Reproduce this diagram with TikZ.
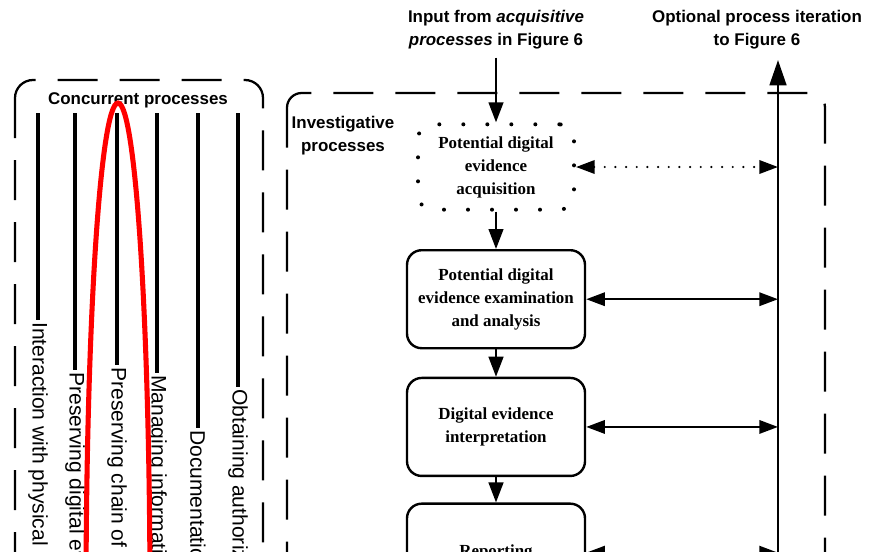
\documentclass[tikz,border=0pt]{standalone}
\usepackage{fontspec}
\setmainfont{Liberation Serif}
\setsansfont{Liberation Sans}
\usepackage{tikz}
\usetikzlibrary{positioning}
\usetikzlibrary{arrows.meta}

\tikzset{
  frame/.style={dash pattern=on 30pt off 16.5pt, line width=1.7pt},
  head/.style={font=\sffamily\bfseries\fontsize{12.7}{17.3}\selectfont, inner sep=2pt},
  procbox/.style={draw, line width=1.8pt, rounded corners=11pt, minimum width=133.5pt,
    minimum height=73.5pt, align=center, font=\bfseries\fontsize{12.7}{17.3}\selectfont},
  dotbox/.style={draw, line width=3pt, line cap=round, dash pattern=on 0pt off 18pt,
    rounded corners=11pt, minimum width=117pt, minimum height=64pt, align=center,
    font=\bfseries\fontsize{12.7}{17.3}\selectfont},
  vtext/.style={rotate=-90, anchor=west, inner sep=1.5pt,
    font=\sffamily\fontsize{15.8}{19}\selectfont},
  cline/.style={line width=3.3pt},
  arr/.style={-{Triangle[length=15pt,width=11pt]}, line width=1.7pt},
  link/.style={{Triangle[length=14pt,width=10pt]}-{Triangle[length=14pt,width=10pt]}, line width=1.7pt},
  dotlink/.style={link, dash pattern=on 0pt off 8pt, line cap=round, line width=1.8pt},
  iter/.style={-{Triangle[length=19pt,width=12.5pt]}, line width=2pt},
  redmark/.style={draw=red, line width=3.8pt}
}

\begin{document}
\begin{tikzpicture}[x=0.75pt, y=-0.75pt]

    \useasboundingbox (0,0) rectangle (873,551);
    \clip (0,0) rectangle (873,551);

    % Frames
    \draw[frame, rounded corners=13.5pt] (15,80) rectangle (263,700);
    \draw[frame, rounded corners=11pt] (287,93) rectangle (825,700);

    % Define nodes
    \node[head] (concur) at (138,100) {Concurrent processes};
    \node[head, align=center] (invest) at (343,136) {Investigative\\processes};
    \node[head, align=center] (input) at (496,30) {Input from \textit{acquisitive}\\\textit{processes} in Figure 6};
    \node[head, align=center] (option) at (757,30) {Optional process iteration\\to Figure 6};

    \node[dotbox] (acq) at (496,167) {Potential digital\\evidence\\acquisition};
    \node[procbox, below=28pt of acq] (exam) {Potential digital\\evidence examination\\and analysis};
    \node[procbox, below=20.5pt of exam] (interp) {Digital evidence\\interpretation};
    \node[procbox, below=19pt of interp] (report) {Reporting};

    \coordinate (iterTop) at (778,60);
    \coordinate (iterBot) at (778,700);

    % Concurrent processes
    \foreach \x/\y/\name/\txt in {38/320/inter/Interaction with physical investigation,
        75/370/presdig/Preserving digital evidence,
        117/365/chain/Preserving chain of custody,
        157/373/manage/Managing information flow,
        198/428/docu/Documentation,
        238/387/author/Obtaining authorization}
    {
      \coordinate (\name top) at (\x,113);
      \node[vtext] (\name) at (\x,\y) {\txt};
      \draw[cline] (\name top) -- (\name.west);
    }

    % Connect the nodes
    \draw[arr, shorten <=4pt] (input) -- (acq);
    \draw[arr] (acq) -- (exam);
    \draw[arr] (exam) -- (interp);
    \draw[arr] (interp) -- (report);
    \draw[iter] (iterBot) -- (iterTop);
    \draw[dotlink] (acq.east) -- (acq.east -| iterTop);
    \draw[link] (exam.east) -- (exam.east -| iterTop);
    \draw[link] (interp.east) -- (interp.east -| iterTop);
    \draw[link] (report.east) -- (report.east -| iterTop);

    % Highlight
    \draw[redmark] (118,600) ellipse [x radius=32, y radius=497];

\end{tikzpicture}
\end{document}
